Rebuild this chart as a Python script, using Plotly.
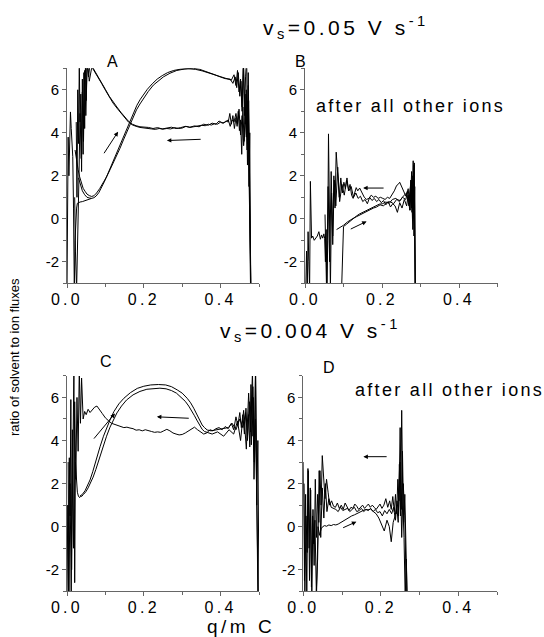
import plotly.graph_objects as go

# ---------------- data ----------------
# Panel A  (v_s = 0.05 V/s)
A_up1_q = [0.021,0.025,0.029,0.033,0.037,0.042,0.047,0.052,0.058,0.064,0.070,0.077,0.085,0.094,0.103,
           0.112,0.120,0.129,0.138,0.147,0.155,0.164,0.172,0.181,0.190,0.199,0.212,0.225,0.238,0.251,
           0.268,0.286,0.307,0.329,0.346,0.364,0.382,0.399,0.412,0.425,0.432,0.438,0.442,0.446,0.450,
           0.453,0.456,0.459,0.462,0.465,0.468,0.470,0.472,0.474,0.476,0.478]
A_up1_y = [3.2,2.7,2.28,1.95,1.66,1.42,1.28,1.15,1.08,1.04,1.07,1.2,1.4,1.66,1.95,
           2.28,2.58,2.9,3.28,3.67,4.02,4.37,4.72,5.07,5.34,5.6,5.93,6.22,6.43,6.6,
           6.77,6.9,6.97,7.0,6.95,6.85,6.72,6.6,6.52,6.5,6.3,6.6,6.1,6.8,5.7,
           6.4,5.2,7.3,4.8,6.6,7.5,3.5,6.2,1.5,4.0,-3.3]
A_up2_q = [0.030,0.035,0.040,0.046,0.052,0.058,0.064,0.070,0.076,0.083,0.090,0.098,0.106,0.114,0.122,
           0.130,0.139,0.148,0.157,0.165,0.174,0.182,0.191,0.200,0.209,0.222,0.235,0.248,0.262,0.278,
           0.296,0.315,0.335,0.352,0.370,0.388,0.405,0.418,0.428,0.435,0.440,0.444,0.448,0.452,0.456,
           0.460,0.464,0.467,0.470,0.473,0.476,0.479]
A_up2_y = [1.9,1.55,1.3,1.12,1.0,0.97,0.95,0.98,1.06,1.22,1.45,1.75,2.08,2.42,2.75,
           3.1,3.5,3.9,4.28,4.62,4.98,5.28,5.56,5.8,6.02,6.28,6.5,6.66,6.8,6.9,
           6.96,6.98,6.95,6.88,6.78,6.68,6.58,6.52,6.45,6.7,6.2,6.9,5.9,6.5,5.0,
           7.2,4.4,6.0,2.5,5.5,0.5,-3.3]
A_dn1_q = [0.479,0.476,0.473,0.470,0.467,0.464,0.461,0.458,0.455,0.452,0.449,0.446,0.443,0.440,0.436,
           0.432,0.428,0.424,0.420,0.414,0.408,0.400,0.392,0.384,0.376,0.368,0.360,0.350,0.340,0.330,
           0.320,0.310,0.300,0.290,0.280,0.270,0.260,0.250,0.240,0.230,0.220,0.210,0.200,0.190,0.180,
           0.170,0.160,0.150,0.140,0.130,0.120,0.110,0.100,0.090,0.080,0.073,0.066,0.060,0.056,0.052,
           0.050,0.048,0.046,0.044,0.042,0.040,0.038,0.036,0.034,0.032,0.030,0.028,0.026,0.024]
A_dn1_y = [-3.3,0.5,3.0,5.5,3.8,4.9,3.6,5.2,3.0,4.6,4.1,5.0,4.3,4.7,4.2,
           4.8,4.4,4.9,4.5,4.55,4.45,4.5,4.4,4.42,4.36,4.4,4.33,4.35,4.3,4.28,
           4.25,4.3,4.22,4.2,4.24,4.18,4.2,4.17,4.2,4.16,4.18,4.2,4.22,4.25,4.3,
           4.37,4.5,4.7,4.92,5.15,5.38,5.65,5.98,6.3,6.6,6.82,7.0,7.2,6.6,7.3,
           5.5,7.2,4.2,6.8,3.0,6.5,2.2,5.8,4.5,7.2,3.5,6.0,1.0,4.5]
A_dn2_q = [0.478,0.475,0.472,0.469,0.466,0.463,0.460,0.456,0.452,0.448,0.444,0.440,0.435,0.430,0.425,
           0.420,0.412,0.404,0.396,0.388,0.378,0.368,0.356,0.344,0.332,0.320,0.308,0.296,0.284,0.272,
           0.260,0.248,0.236,0.224,0.212,0.200,0.190,0.180,0.170,0.160,0.150,0.140,0.130,0.120,0.110,
           0.100,0.090,0.080,0.072,0.065,0.058,0.053,0.049,0.046,0.043,0.040,0.037,0.034,0.031,0.028,
           0.025,0.022,0.020]
A_dn2_y = [-3.3,2.0,6.8,3.2,5.8,4.0,3.4,4.8,3.9,5.1,4.4,4.9,4.5,4.6,4.3,
           4.6,4.5,4.45,4.55,4.4,4.45,4.35,4.4,4.28,4.32,4.26,4.3,4.24,4.2,4.26,
           4.22,4.18,4.24,4.2,4.25,4.25,4.28,4.33,4.4,4.54,4.74,4.96,5.2,5.44,5.7,
           6.02,6.34,6.64,6.86,7.1,6.4,7.4,4.8,6.9,3.6,5.9,2.8,4.9,1.8,-0.5,
           -3.3,-1.5,1.0]
A_left_q = [0.000,0.001,0.003,0.005,0.007,0.009,0.011,0.013,0.015,0.017,0.019,0.021,0.023,0.025,0.027,
            0.030,0.034,0.040,0.048,0.056,0.064]
A_left_y = [-3.3,0.5,3.8,2.0,4.5,4.97,4.2,3.5,2.9,0.5,-3.3,-1.0,0.2,0.5,0.72,
            0.75,0.78,0.8,0.85,0.9,0.95]

# Panel B  (v_s = 0.05 V/s, after all other ions)
B_up1_q = [0.082,0.090,0.100,0.110,0.117,0.125,0.134,0.142,0.151,0.160,0.169,0.178,0.186,0.195,0.204,
           0.212,0.221,0.230,0.238,0.247,0.255,0.264,0.270,0.275,0.278,0.281,0.283,0.285,0.287]
B_up1_y = [-0.5,-0.42,-0.3,-0.15,-0.05,0.02,0.1,0.18,0.25,0.34,0.42,0.5,0.55,0.65,0.6,
           0.75,0.8,0.7,0.9,0.85,1.05,1.2,0.6,1.8,0.3,2.7,-0.8,1.5,-3.3]
B_up2_q = [0.095,0.100,0.108,0.116,0.124,0.133,0.141,0.150,0.158,0.167,0.176,0.184,0.193,0.201,0.210,
           0.219,0.227,0.236,0.245,0.253,0.262,0.268,0.273,0.277,0.280,0.283,0.286]
B_up2_y = [-3.3,-0.36,-0.25,-0.12,0.0,0.12,0.22,0.3,0.38,0.45,0.55,0.6,0.68,0.7,0.78,
           0.72,0.9,0.95,0.8,1.0,0.9,1.4,0.4,2.2,0.0,2.5,-3.3]
B_dn1_q = [0.286,0.284,0.282,0.280,0.277,0.274,0.270,0.266,0.262,0.258,0.254,0.250,0.246,0.242,0.238,
           0.232,0.226,0.220,0.214,0.208,0.202,0.196,0.190,0.184,0.178,0.172,0.166,0.160,0.154,0.148,
           0.142,0.137,0.133,0.129,0.125,0.121,0.117,0.113,0.109,0.105,0.101,0.097,0.093,0.089,0.085,
           0.081,0.078,0.075,0.072,0.069,0.066,0.063,0.061,0.059,0.057,0.055,0.053,0.051,0.049,0.046,
           0.043,0.040,0.036,0.032,0.028,0.024,0.020,0.017,0.014,0.012,0.010,0.008,0.006,0.004,0.002]
B_dn1_y = [-3.3,2.6,0.2,2.0,0.5,1.5,0.8,1.3,1.05,1.2,1.4,1.55,1.7,1.6,1.55,
           1.3,1.1,0.95,1.0,0.9,0.95,1.0,0.95,1.05,1.0,1.1,0.95,0.9,1.0,1.2,
           1.43,1.3,1.45,1.2,0.95,1.1,1.6,1.3,1.9,1.4,1.7,1.2,1.9,1.0,2.1,
           3.1,0.5,2.0,-0.8,1.2,-3.3,0.8,3.95,-1.0,-3.3,-0.5,-2.0,-0.9,-0.7,-0.9,
           -0.75,-0.95,-0.6,-0.8,-0.9,-1.0,-0.8,-0.9,1.74,-3.3,-2.0,-0.6,-3.3,-1.5,-3.3]
B_dn2_q = [0.284,0.280,0.276,0.272,0.268,0.264,0.258,0.252,0.246,0.240,0.234,0.228,0.222,0.216,0.210,
           0.204,0.198,0.192,0.186,0.180,0.174,0.168,0.162,0.156,0.150,0.144,0.138,0.132,0.126,0.120,
           0.114,0.108,0.102,0.096,0.090,0.085,0.080,0.076,0.072,0.068,0.064,0.060,0.056,0.052]
B_dn2_y = [1.0,-0.5,1.8,0.4,1.1,0.6,0.9,0.5,0.75,0.3,0.6,0.7,0.55,0.8,0.65,
           0.85,0.75,0.9,0.8,0.95,0.85,1.0,0.7,0.9,0.8,1.05,0.95,1.2,1.0,1.5,
           1.3,1.8,1.1,1.6,0.8,2.4,0.6,1.8,-1.2,2.2,-2.0,1.5,-3.3,0.2]

# Panel C  (v_s = 0.004 V/s)
C_up1_q = [0.024,0.027,0.030,0.033,0.036,0.040,0.047,0.054,0.060,0.067,0.073,0.080,0.086,0.095,0.104,
           0.113,0.122,0.135,0.148,0.165,0.183,0.200,0.218,0.238,0.257,0.272,0.287,0.300,0.313,0.322,
           0.330,0.337,0.343,0.348,0.352,0.358,0.365,0.375,0.390,0.405,0.420,0.430,0.440,0.450,0.458,
           0.465,0.470,0.475,0.480,0.484,0.488,0.491,0.494,0.497,0.500]
C_up1_y = [2.4,1.6,1.4,1.35,1.45,1.5,1.67,1.9,2.17,2.55,2.94,3.33,3.71,4.2,4.64,
           5.0,5.34,5.7,5.96,6.22,6.42,6.52,6.58,6.6,6.58,6.5,6.35,6.2,5.96,5.75,
           5.5,5.25,5.03,4.85,4.72,4.6,4.49,4.45,4.5,4.55,4.6,4.8,4.5,5.0,4.6,
           5.3,4.2,5.8,3.8,6.5,3.0,7.3,1.0,4.0,-3.3]
C_up2_q = [0.034,0.038,0.043,0.049,0.055,0.062,0.068,0.075,0.082,0.088,0.095,0.103,0.112,0.121,0.130,
           0.142,0.155,0.172,0.190,0.208,0.225,0.242,0.258,0.272,0.285,0.297,0.308,0.317,0.325,0.332,
           0.338,0.343,0.347,0.352,0.358,0.366,0.378,0.392,0.408,0.422,0.434,0.444,0.452,0.460,0.467,
           0.473,0.478,0.483,0.487,0.491,0.495,0.498]
C_up2_y = [1.45,1.4,1.5,1.62,1.8,2.05,2.3,2.65,3.05,3.42,3.8,4.2,4.62,4.98,5.28,
           5.6,5.88,6.12,6.28,6.38,6.42,6.43,6.4,6.32,6.2,6.02,5.82,5.6,5.38,5.15,
           4.95,4.78,4.65,4.52,4.42,4.38,4.3,4.4,4.2,4.5,4.3,4.9,4.0,5.4,3.6,
           6.2,4.4,7.2,2.2,5.0,-0.5,-3.3]
C_dn1_q = [0.497,0.494,0.491,0.488,0.485,0.482,0.479,0.476,0.473,0.470,0.466,0.462,0.458,0.454,0.450,
           0.445,0.440,0.434,0.428,0.420,0.412,0.404,0.396,0.388,0.380,0.372,0.364,0.356,0.348,0.340,
           0.332,0.324,0.316,0.308,0.300,0.292,0.284,0.276,0.268,0.260,0.252,0.244,0.236,0.228,0.220,
           0.212,0.204,0.196,0.188,0.180,0.172,0.164,0.156,0.148,0.140,0.132,0.124,0.116,0.108,0.100,
           0.092,0.084,0.078,0.072,0.066,0.060,0.055,0.050,0.046,0.042,0.038,0.035,0.032,0.029,0.026,
           0.023,0.020,0.017,0.014,0.011,0.008,0.005,0.003]
C_dn1_y = [-3.3,2.0,7.4,3.5,6.0,4.2,6.6,3.7,5.2,4.0,5.5,4.3,5.2,4.6,5.3,
           4.7,5.1,4.5,4.8,4.55,4.65,4.5,4.6,4.55,4.45,4.5,4.35,4.3,4.38,4.5,
           4.62,4.52,4.45,4.35,4.28,4.26,4.3,4.35,4.45,4.52,4.45,4.38,4.4,4.38,4.42,
           4.46,4.5,4.45,4.5,4.48,4.55,4.58,4.62,4.6,4.65,4.7,4.75,4.8,4.92,5.05,
           5.25,5.45,5.6,5.55,5.42,5.3,5.45,5.2,5.35,5.0,6.9,4.8,7.3,3.5,6.0,
           2.2,5.8,-1.0,4.5,-3.3,2.0,-3.3,3.0]
C_left_q = [0.000,0.002,0.004,0.006,0.008,0.010,0.012,0.014,0.016,0.018,0.020,0.022,0.024]
C_left_y = [-3.3,1.0,-3.3,3.2,0.5,5.9,-2.0,2.5,4.0,7.3,-2.6,3.0,2.4]

# Panel D  (v_s = 0.004 V/s, after all other ions)
D_up1_q = [0.000,0.003,0.006,0.009,0.012,0.015,0.018,0.021,0.024,0.027,0.030,0.034,0.038,0.042,0.046,
           0.050,0.055,0.060,0.066,0.072,0.078,0.084,0.090,0.097,0.104,0.111,0.118,0.125,0.132,0.139,
           0.146,0.153,0.160,0.167,0.174,0.181,0.188,0.195,0.202,0.209,0.216,0.222,0.227,0.232,0.237,
           0.241,0.245,0.248,0.251,0.254,0.257,0.260,0.263,0.266,0.268]
D_up1_y = [3.0,-2.5,1.5,-3.3,2.7,-1.0,1.8,-2.8,0.5,-0.8,0.3,-3.3,0.0,-0.4,-0.1,
           0.0,0.05,0.02,0.08,0.05,0.1,0.08,0.12,0.2,0.3,0.35,0.45,0.5,0.55,0.62,
           0.7,0.75,0.8,0.78,0.82,0.7,0.6,0.4,0.1,-0.2,0.3,0.0,-0.7,0.2,0.5,
           1.0,0.2,2.9,0.5,5.4,1.0,-0.5,-3.3,-1.5,-3.3]
D_dn1_q = [0.268,0.265,0.262,0.259,0.256,0.253,0.250,0.247,0.244,0.241,0.238,0.235,0.231,0.227,0.223,
           0.218,0.213,0.208,0.203,0.198,0.193,0.188,0.183,0.178,0.173,0.168,0.163,0.158,0.153,0.148,
           0.143,0.138,0.133,0.128,0.123,0.118,0.113,0.108,0.103,0.098,0.093,0.088,0.083,0.078,0.073,
           0.068,0.064,0.060,0.056,0.052,0.049,0.046,0.043,0.040,0.037,0.034,0.031,0.028,0.025,0.022,
           0.019,0.016,0.013,0.010,0.007,0.004,0.002]
D_dn1_y = [-3.3,-1.0,1.5,0.2,3.5,0.8,4.6,1.2,2.2,0.6,1.5,0.7,1.4,0.8,1.2,
           0.9,1.3,1.0,0.85,1.05,0.95,0.8,0.9,1.0,0.9,1.05,0.95,0.85,1.0,0.9,
           0.8,0.95,1.05,0.85,0.9,0.75,0.95,1.1,0.8,1.0,0.85,1.1,0.9,0.95,1.2,
           1.0,1.6,2.2,1.3,2.8,3.3,1.0,2.6,0.2,1.5,-0.5,2.2,-1.8,0.8,-3.3,
           1.7,-2.5,2.6,-1.2,0.5,-3.3,2.0]
D_dn2_q = [0.266,0.262,0.258,0.254,0.250,0.246,0.242,0.238,0.233,0.228,0.222,0.216,0.210,0.204,0.198,
           0.192,0.186,0.180,0.174,0.168,0.162,0.156,0.150,0.144,0.138,0.132,0.126,0.120,0.114,0.108,
           0.102,0.096,0.090,0.084,0.078,0.072,0.066,0.061,0.057,0.053,0.049,0.045,0.041,0.037,0.033]
D_dn2_y = [-3.3,0.5,2.0,-0.5,3.0,0.5,1.2,0.3,0.9,0.6,0.8,0.6,0.75,0.5,0.7,
           0.65,0.8,0.7,0.85,0.75,0.8,0.7,0.85,0.75,0.7,0.9,0.8,0.7,0.85,0.8,
           0.75,0.9,0.7,0.8,0.85,0.9,1.3,0.7,2.0,0.4,1.8,-0.5,2.6,-1.5,-3.3]

# direction arrows per panel: (q_tail, y_tail, q_head, y_head)
A_arrows = [(0.094, 2.98, 0.133, 4.05), (0.352, 3.70, 0.260, 3.64)]
B_arrows = [(0.115, -0.51, 0.160, -0.12), (0.208, 1.43, 0.151, 1.43)]
C_arrows = [(0.067, 4.02, 0.125, 5.26), (0.321, 5.03, 0.234, 5.10)]
D_arrows = [(0.099, -0.08, 0.137, 0.23), (0.219, 3.25, 0.155, 3.25)]

x_tick_vals = [0.0, 0.2, 0.4]
x_tick_text = ["0.0", "0.2", "0.4"]
y_tick_vals = [-2, 0, 2, 4, 6]
y_tick_text = ["-2", "0", "2", "4", "6"]

# ---------------- figure ----------------
W, H = 544, 637
FONT = "Liberation Sans, Arial, sans-serif"
fig = go.Figure()

panels = [
    ("x", "y", [(A_left_q, A_left_y), (A_up1_q, A_up1_y), (A_up2_q, A_up2_y), (A_dn1_q, A_dn1_y), (A_dn2_q, A_dn2_y)], A_arrows),
    ("x2", "y2", [(B_up1_q, B_up1_y), (B_up2_q, B_up2_y), (B_dn1_q, B_dn1_y), (B_dn2_q, B_dn2_y)], B_arrows),
    ("x3", "y3", [(C_left_q, C_left_y), (C_up1_q, C_up1_y), (C_up2_q, C_up2_y), (C_dn1_q, C_dn1_y)], C_arrows),
    ("x4", "y4", [(D_up1_q, D_up1_y), (D_dn1_q, D_dn1_y), (D_dn2_q, D_dn2_y)], D_arrows),
]

annotations = []
for xa, ya, traces, arrows in panels:
    for qs, ys in traces:
        fig.add_trace(go.Scatter(x=qs, y=ys, xaxis=xa, yaxis=ya, mode="lines",
                                 line=dict(color="black", width=1), showlegend=False,
                                 hoverinfo="skip"))
    for (xt, yt, xh, yh) in arrows:
        annotations.append(dict(x=xh, y=yh, ax=xt, ay=yt, xref=xa, yref=ya, axref=xa, ayref=ya,
                                text="", showarrow=True, arrowhead=2, arrowsize=0.9,
                                arrowwidth=1, arrowcolor="black"))

def px_x(p):
    return p / W

def px_y(p):
    return (H - p) / H

AX_COLOR = "#666666"
def xaxis_def(d0, d1, anchor):
    return dict(domain=[px_x(d0), px_x(d1)], anchor=anchor, range=[0, 0.5], automargin=False,
                showline=True, linecolor=AX_COLOR, linewidth=1, mirror=False,
                ticks="outside", ticklen=4, tickcolor=AX_COLOR, tickwidth=1,
                tickvals=x_tick_vals, ticklabelstandoff=-3,
                ticktext=['<span style="letter-spacing:3.3px">%s</span>' % t for t in x_tick_text],
                tickfont=dict(family=FONT, size=16, color="black"),
                minor=dict(ticks="outside", ticklen=3, tickcolor=AX_COLOR, dtick=0.1, tick0=0),
                showgrid=False, zeroline=False, fixedrange=True)

def yaxis_def(d0, d1, anchor):
    return dict(domain=[px_y(d1), px_y(d0)], anchor=anchor, range=[-3, 7], automargin=False,
                showline=True, linecolor=AX_COLOR, linewidth=1, mirror=False,
                ticks="outside", ticklen=4, tickcolor=AX_COLOR, tickwidth=1,
                tickvals=y_tick_vals, ticktext=y_tick_text,
                tickfont=dict(family=FONT, size=15, color="black"),
                minor=dict(ticks="outside", ticklen=3, tickcolor=AX_COLOR, dtick=1, tick0=0),
                showgrid=False, zeroline=False, fixedrange=True)

# pixel boxes of the four panels (left, right, top, bottom)
boxA = (67, 259, 68.3, 283.3)
boxB = (305, 497.5, 68.3, 283.3)
boxC = (67, 259, 375.9, 591.3)
boxD = (303.3, 497, 375.9, 591.3)

fig.update_layout(
    xaxis=xaxis_def(boxA[0], boxA[1], "y"), yaxis=yaxis_def(boxA[2], boxA[3], "x"),
    xaxis2=xaxis_def(boxB[0], boxB[1], "y2"), yaxis2=yaxis_def(boxB[2], boxB[3], "x2"),
    xaxis3=xaxis_def(boxC[0], boxC[1], "y3"), yaxis3=yaxis_def(boxC[2], boxC[3], "x3"),
    xaxis4=xaxis_def(boxD[0], boxD[1], "y4"), yaxis4=yaxis_def(boxD[2], boxD[3], "x4"),
)

def txt(text, xp, yp, size, angle=0, spacing=0, yanchor="middle"):
    if spacing:
        text = '<span style="letter-spacing:%spx">%s</span>' % (spacing, text)
    return dict(text=text, x=px_x(xp), y=px_y(yp), xref="paper", yref="paper",
                showarrow=False, xanchor="center", yanchor=yanchor, textangle=angle,
                borderpad=0, font=dict(family=FONT, size=size, color="black"))

annotations += [
    txt("v<sub>s</sub>=0.05 V s<sup>-1</sup>", 346, 28, 21, spacing=3.5),
    txt("v<sub>s</sub>=0.004 V s<sup>-1</sup>", 310, 330, 21, spacing=3.5),
    txt("A", 112, 62, 16),
    txt("B", 300, 62, 16),
    txt("C", 106, 362, 16),
    txt("D", 329, 367, 16),
    txt("after all other ions", 410, 106, 18, spacing=2.3),
    txt("after all other ions", 449, 390, 18, spacing=2.3),
    txt("ratio of solvent to ion fluxes", 14, 357, 13, angle=-90),
    txt("q/m C", 241, 638, 19, spacing=3.5, yanchor="bottom"),
]

fig.update_layout(width=W, height=H, margin=dict(l=0, r=0, t=0, b=0, autoexpand=False),
                  paper_bgcolor="white", plot_bgcolor="white",
                  annotations=annotations, showlegend=False,
                  font=dict(family=FONT, color="black"))

fig.write_html("out.html", config={"displayModeBar": False},
               post_script="document.body.style.margin='0';document.body.style.padding='0';")
